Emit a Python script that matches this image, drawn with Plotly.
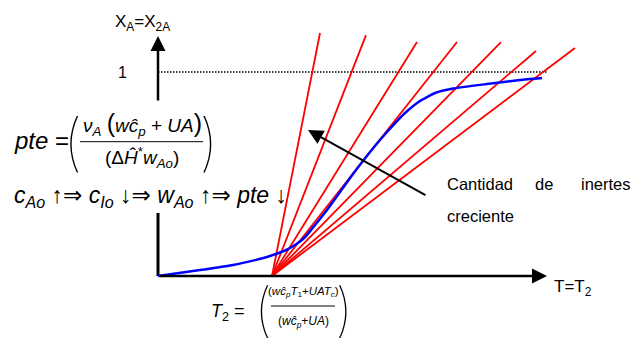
import plotly.graph_objects as go

# Conversion curve X_A(T) of the reactor (heat generation side)
T_curve = [0, 0.42, 0.75, 0.97, 1.12, 1.27, 1.37, 1.47, 1.57, 1.69, 1.82, 1.95, 2.12, 2.29, 2.47,
           2.62, 2.77, 2.95, 3.29, 3.62, 3.84]
X_curve = [0, 0.029, 0.054, 0.078, 0.098, 0.125, 0.152, 0.190, 0.250, 0.324, 0.412, 0.500, 0.608,
           0.706, 0.799, 0.858, 0.897, 0.919, 0.941, 0.961, 0.971]

# Heat removal lines: all start at T2 on the T axis, slope decreases with inert content
T2 = 1.14
line_T_end = [1.62, 2.08, 2.59, 2.99, 3.43, 3.78, 4.17]
line_X_end = [1.191, 1.181, 1.147, 1.147, 1.147, 1.103, 1.118]

# Axis extents (data units)
T_axis_end = 3.89
X_axis_end = 1.176
X_ref = 1.0

W, H = 640, 345
SANS = "Liberation Sans, Arial, sans-serif"
MATH = "Liberation Sans, Arial, DejaVu Sans, sans-serif"
THIN = "Inter, Roboto, Liberation Sans, sans-serif"

fig = go.Figure()

# lower part of the vertical axis (upper part is an arrow annotation)
fig.add_trace(go.Scatter(x=[0, 0], y=[0, 0.309], mode="lines",
                         line=dict(color="black", width=3), hoverinfo="skip"))

# reference level X_A = 1
fig.add_trace(go.Scatter(x=[0, T_axis_end], y=[X_ref, X_ref], mode="lines",
                         line=dict(color="black", width=1.5, dash="1.5px,1.5px"), hoverinfo="skip"))

for te, xe in zip(line_T_end, line_X_end):
    fig.add_trace(go.Scatter(x=[T2, te], y=[0, xe], mode="lines",
                             line=dict(color="red", width=1.8), hoverinfo="skip"))

fig.add_trace(go.Scatter(x=T_curve, y=X_curve, mode="lines",
                         line=dict(color="blue", width=2.5, shape="spline", smoothing=0.4),
                         hoverinfo="skip"))


def px(x):
    return x / W


def py(y):
    return 1 - y / H


annotations = []

# axis arrows
annotations.append(dict(x=T_axis_end, y=0, ax=0, ay=0, xref="x", yref="y", axref="x", ayref="y",
                        text="", showarrow=True, arrowhead=2, arrowsize=1.2, arrowwidth=2.5,
                        arrowcolor="black"))
annotations.append(dict(x=0, y=X_axis_end, ax=0, ay=0.853, xref="x", yref="y", axref="x", ayref="y",
                        text="", showarrow=True, arrowhead=2, arrowsize=1.2, arrowwidth=2.5,
                        arrowcolor="black"))
# pointer towards increasing inert content
annotations.append(dict(x=1.50, y=0.716, ax=2.69, ay=0.392, xref="x", yref="y", axref="x", ayref="y",
                        text="", showarrow=True, arrowhead=2, arrowsize=1.5, arrowwidth=2,
                        arrowcolor="black"))


def note(text, x, y, size, family=SANS, xanchor="center", yanchor="middle", weight=None):
    font = dict(size=size, family=family, color="black")
    if weight is not None:
        font["weight"] = weight
    annotations.append(dict(text=text, x=px(x), y=py(y), xref="paper", yref="paper",
                            xanchor=xanchor, yanchor=yanchor, showarrow=False, font=font))


note("X<sub>A</sub>=X<sub>2A</sub>", 142, 23, 17)
note("1", 122, 73, 16)
note("T=T<sub>2</sub>", 552, 288, 17, xanchor="left")

note("Cantidad", 445, 184, 16.5, xanchor="left")
note("de", 544, 184, 16.5)
note("inertes", 633, 184, 16.5, xanchor="right")
note("creciente", 445, 216, 16.5, xanchor="left")

# pte formula
note("<i>pte</i> =", 12, 140, 24, family=MATH, xanchor="left")
note("(", 73, 141, 62, family=THIN, weight=100)
note(")", 209, 141, 62, family=THIN, weight=100)
note("<i>ν<sub>A</sub></i> <span style=\"font-size:25px\">(</span><i>wĉ<sub>p</sub></i> + <i>UA</i>"
     "<span style=\"font-size:25px\">)</span>", 142, 124, 19, family=MATH)
note("(Δ<i>Ĥ</i><sup>*</sup><i>w<sub>Ao</sub></i>)", 142, 158, 19, family=MATH)

# chain of effects
note("<i>c<sub>Ao</sub></i> ↑⇒ <i>c<sub>Io</sub></i> ↓⇒ <i>w<sub>Ao</sub></i> ↑⇒ <i>pte</i> ↓",
     12, 196, 23, family=MATH, xanchor="left")

# T2 formula
note("<i>T</i><sub>2</sub> =", 247, 312, 18, family=MATH, xanchor="right")
note("(", 263, 309, 58, family=THIN, weight=100)
note(")", 344, 309, 58, family=THIN, weight=100)
note("(<i>wĉ<sub>p</sub>T</i><sub>1</sub>+<i>UAT<sub>c</sub></i>)", 303, 292, 11.5, family=MATH)
note("(<i>wĉ<sub>p</sub></i>+<i>UA</i>)", 303, 322, 12, family=MATH)

shapes = [
    dict(type="line", xref="paper", yref="paper", x0=px(80), x1=px(203), y0=py(141.7), y1=py(141.7),
         line=dict(color="black", width=1)),
    dict(type="line", xref="paper", yref="paper", x0=px(271), x1=px(335), y0=py(306), y1=py(306),
         line=dict(color="black", width=1)),
]

fig.update_layout(
    width=W, height=H,
    margin=dict(l=0, r=0, t=0, b=0),
    paper_bgcolor="white", plot_bgcolor="white",
    showlegend=False,
    xaxis=dict(range=[-1.58, 4.82], visible=False, fixedrange=True),
    yaxis=dict(range=[(276 - 345) / 204, 276 / 204], visible=False, fixedrange=True),
    annotations=annotations,
    shapes=shapes,
)

fig.write_html("out.html")
